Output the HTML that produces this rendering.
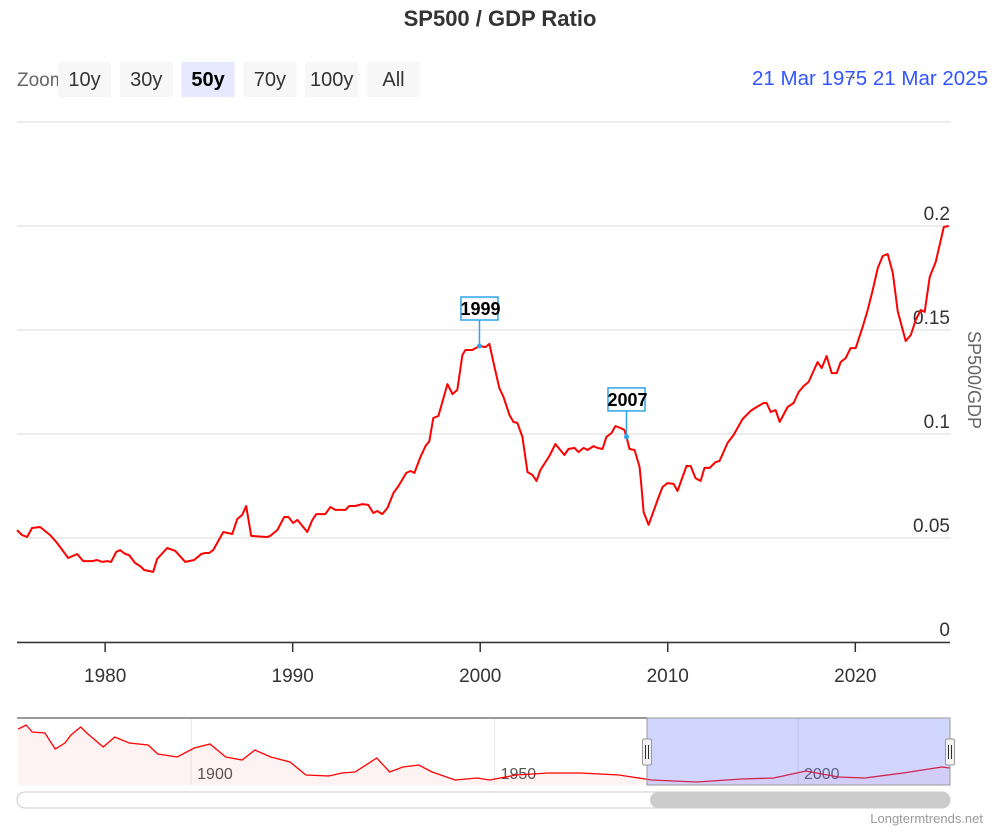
<!DOCTYPE html>
<html><head><meta charset="utf-8"><style>
body{margin:0;background:#fff;width:1000px;height:833px;overflow:hidden;font-family:"Liberation Sans",Arial,sans-serif}
svg{display:block}
</style></head><body>
<svg id="c" width="1000" height="833">
<text x="500" y="26" text-anchor="middle" font-size="22" font-weight="bold" fill="#333">SP500 / GDP Ratio</text>
<text x="17" y="86" font-size="19" fill="#666">Zoom</text>
<g id="btns"></g>
<text x="752" y="85" font-size="20.5" fill="#3355ff">21 Mar 1975</text>
<text x="843" y="80" font-size="15" fill="#666">→</text>
<text x="988" y="85" text-anchor="end" font-size="20.5" fill="#3355ff">21 Mar 2025</text>
<g id="grid"></g>
<g id="xaxis"></g>
<text transform="translate(968,380) rotate(90)" text-anchor="middle" font-size="18" fill="#666">SP500/GDP</text>
<path id="line" fill="none" stroke="#ff0000" stroke-width="2" stroke-linejoin="round"/>
<g id="flags"></g>
<g id="nav"></g>
<text x="983" y="823" text-anchor="end" font-size="13" fill="#999">Longtermtrends.net</text>
</svg>
<script>
const years=[1975.30,1975.57,1975.84,1976.10,1976.53,1977.07,1977.44,1978.03,1978.51,1978.83,1979.31,1979.57,1979.84,1980.11,1980.32,1980.59,1980.80,1981.07,1981.28,1981.60,1981.87,1982.08,1982.56,1982.77,1983.31,1983.74,1984.27,1984.75,1985.12,1985.34,1985.55,1985.76,1986.30,1986.78,1987.04,1987.31,1987.52,1987.79,1988.64,1988.80,1989.18,1989.55,1989.77,1990.03,1990.25,1990.78,1991.05,1991.26,1991.74,1992.01,1992.27,1992.81,1993.02,1993.34,1993.71,1994.03,1994.30,1994.51,1994.78,1995.05,1995.37,1995.64,1996.06,1996.28,1996.49,1996.81,1997.08,1997.29,1997.50,1997.77,1998.04,1998.25,1998.52,1998.78,1999.05,1999.21,1999.58,1999.96,2000.28,2000.49,2000.76,2001.02,2001.24,2001.56,2001.77,2001.98,2002.25,2002.52,2002.79,2003.00,2003.21,2003.69,2004.01,2004.23,2004.49,2004.71,2005.03,2005.24,2005.51,2005.72,2006.04,2006.25,2006.52,2006.73,2007.00,2007.21,2007.48,2007.69,2007.80,2007.96,2008.23,2008.50,2008.60,2008.71,2008.98,2009.46,2009.72,2009.99,2010.31,2010.52,2011.00,2011.22,2011.48,2011.75,2011.96,2012.23,2012.55,2012.76,2013.19,2013.51,2013.99,2014.42,2014.74,2015.11,2015.27,2015.49,2015.75,2015.97,2016.39,2016.71,2016.98,2017.25,2017.51,2017.99,2018.21,2018.47,2018.74,2019.01,2019.22,2019.49,2019.75,2020.02,2020.39,2020.66,2020.93,2021.20,2021.46,2021.73,2022.00,2022.26,2022.69,2022.96,2023.22,2023.49,2023.70,2023.97,2024.29,2024.72,2024.98];
const values=[0.0538,0.0514,0.0505,0.0548,0.0553,0.0514,0.0476,0.0404,0.0423,0.0389,0.0389,0.0394,0.0385,0.0389,0.0385,0.0433,0.0442,0.0423,0.0418,0.0380,0.0365,0.0346,0.0337,0.0399,0.0452,0.0438,0.0385,0.0394,0.0423,0.0428,0.0428,0.0442,0.0529,0.0519,0.0591,0.0611,0.0654,0.0510,0.0505,0.0510,0.0538,0.0601,0.0601,0.0572,0.0587,0.0529,0.0587,0.0615,0.0615,0.0649,0.0635,0.0635,0.0654,0.0654,0.0663,0.0659,0.0620,0.0630,0.0615,0.0644,0.0716,0.0750,0.0813,0.0822,0.0813,0.0889,0.0942,0.0966,0.1077,0.1087,0.1173,0.1240,0.1192,0.1212,0.1380,0.1404,0.1404,0.1423,0.1418,0.1433,0.1322,0.1221,0.1178,0.1091,0.1058,0.1053,0.0986,0.0817,0.0803,0.0774,0.0827,0.0894,0.0952,0.0928,0.0899,0.0928,0.0933,0.0913,0.0933,0.0923,0.0942,0.0933,0.0928,0.0986,0.1005,0.1038,0.1029,0.1019,0.0986,0.0928,0.0923,0.0841,0.0745,0.0625,0.0563,0.0683,0.0745,0.0764,0.0760,0.0726,0.0846,0.0846,0.0788,0.0774,0.0837,0.0837,0.0865,0.0870,0.0957,0.0995,0.1072,0.1111,0.1130,0.1149,0.1149,0.1106,0.1115,0.1058,0.1130,0.1149,0.1202,0.1231,0.1250,0.1346,0.1317,0.1375,0.1293,0.1293,0.1346,0.1365,0.1413,0.1413,0.1514,0.1596,0.1692,0.1798,0.1856,0.1865,0.1774,0.1591,0.1447,0.1476,0.1548,0.1596,0.1587,0.1755,0.1827,0.1995,0.2000];
const yTicks=[0,0.05,0.1,0.15,0.2,0.25];
const yTickLabels=["0","0.05","0.1","0.15","0.2",""];
const xTicks=[1980,1990,2000,2010,2020];
const flagYears=[1999.96,2007.80];
const flagValues=[0.1423,0.0986];
const flagLabels=["1999","2007"];
const navYears=[1871.5,1872.8,1873.8,1875.9,1877.6,1879.2,1880.2,1881.8,1882.8,1885.5,1887.4,1889.8,1892.9,1894.5,1897.7,1900.5,1903.1,1905.7,1908.4,1910.5,1913.1,1916.3,1918.9,1922.7,1924.8,1927.0,1930.6,1932.7,1934.9,1937.5,1939.7,1943.5,1947.1,1949.2,1953.5,1958.8,1964.2,1970.5,1975.9,1983.3,1990.7,1996.0,2001.3,2006.7,2011.0,2017.3,2023.7,2025.0];
const navValues=[56,60,53,52,36,42,50,58,52,38,48,42,40,31,28,37,41,28,25,35,28,23,10,9,12,13,27,13,18,20,13,5,7,5,10,12,12,10,5,3,6,7,14,8,7,12,18,17];
const navTicks=[1900,1950,2000];
const buttons=["10y","30y","50y","70y","100y","All"];

const NS="http://www.w3.org/2000/svg";
function mk(tag,attrs,parent){const e=document.createElementNS(NS,tag);for(const k in attrs)e.setAttribute(k,attrs[k]);parent.appendChild(e);return e;}
const X0=17,X1=950,Y0=642,PXV=2080;
const yearStart=1975.3,yearEnd=2025.05;
const xs=y=>X0+(y-yearStart)/(yearEnd-yearStart)*(X1-X0);
const ys=v=>Y0-v*PXV;

const bg=document.getElementById('btns');
buttons.forEach((b,i)=>{
  const x=58+i*61.8;
  const r=mk('rect',{x:x,y:62,width:53,height:35,rx:2,fill:b==="50y"?"#e6e9ff":"#f7f7f7"},bg);
  
  
  const t=mk('text',{x:x+26.5,y:86,'text-anchor':'middle','font-size':20,fill:b==="50y"?"#000":"#333",'font-weight':b==="50y"?"bold":"normal"},bg);
  t.textContent=b;
  
  
});
const g=document.getElementById('grid');
yTicks.forEach((v,i)=>{
  const l=mk('line',{x1:X0,x2:X1,y1:ys(v),y2:ys(v),stroke:"#e6e6e6","stroke-width":1.5},g);
  
  
  if(yTickLabels[i]){
    const t=mk('text',{x:X1,y:ys(v)-6,'text-anchor':'end','font-size':19,fill:"#333"},g);
    t.textContent=yTickLabels[i];
    
    
  }
});
const xa=document.getElementById('xaxis');
const al=mk('line',{x1:X0,x2:X1,y1:Y0+0.5,y2:Y0+0.5,stroke:"#333","stroke-width":1.5},xa);


xTicks.forEach(yr=>{
  const x=xs(yr);
  const tk=mk('line',{x1:x,x2:x,y1:Y0,y2:Y0+10,stroke:"#333","stroke-width":1.5},xa);
  
  
  const t=mk('text',{x:x,y:682,'text-anchor':'middle','font-size':19,fill:"#333"},xa);
  t.textContent=yr;
  
  
});
document.getElementById('line').setAttribute('d',years.map((y,i)=>(i?'L':'M')+xs(y).toFixed(1)+','+ys(values[i]).toFixed(1)).join(''));
const fg=document.getElementById('flags');
flagLabels.forEach((lab,i)=>{
  const x=xs(flagYears[i]),y=ys(flagValues[i]);
  const top=y-49;
  const ln=mk('line',{x1:x,x2:x,y1:top+23,y2:y,stroke:"#2fa4e7","stroke-width":1.5},fg);
  
  
  const r=mk('rect',{x:x-18.5,y:top,width:37,height:23,fill:"#fff",stroke:"#2fa4e7","stroke-width":1.5},fg);
  
  
  const t=mk('text',{x:x+1,y:top+18,'text-anchor':'middle','font-size':18,'font-weight':'bold',fill:"#000"},fg);
  t.textContent=lab;
  
  
  const c=mk('circle',{cx:x,cy:y,r:2.5,fill:"#2fa4e7"},fg);
  
  
});
const nv=document.getElementById('nav');
const NT=718,NB=785,nStart=1871.3,nEnd=2025.05;
const nx=y=>X0+(y-nStart)/(nEnd-nStart)*(X1-X0);
const ny=v=>NB-v;
navTicks.forEach(yr=>{
  const l=mk('line',{x1:nx(yr),x2:nx(yr),y1:NT,y2:NB,stroke:"#e6e6e6"},nv);
  
  
  const t=mk('text',{x:nx(yr)+6,y:779,'font-size':16,fill:"#555"},nv);
  t.textContent=yr;
  
  
});
const npts=navYears.map((y,i)=>nx(y).toFixed(1)+','+ny(navValues[i]).toFixed(1));
const area=mk('path',{d:'M'+npts.join('L')+'L'+nx(navYears[navYears.length-1])+','+NB+'L'+nx(navYears[0])+','+NB+'Z',fill:"rgba(255,0,0,0.05)"},nv);


const nl=mk('path',{d:'M'+npts.join('L'),fill:"none",stroke:"#ff0000","stroke-width":1.3},nv);


const sel=mk('rect',{x:647,y:NT,width:X1-647,height:NB-NT,fill:"rgba(102,119,255,0.3)",stroke:"#999"},nv);


const tb=mk('line',{x1:X0,x2:647,y1:NT,y2:NT,stroke:"#999","stroke-width":2},nv);


[647,950].forEach((hx,i)=>{
  const h=mk('rect',{x:hx-4.5,y:739,width:9,height:26,rx:1.5,fill:"#f2f2f2",stroke:"#999"},nv);
  
  
  mk('path',{d:`M${hx-1.5},745V759M${hx+1.5},745V759`,stroke:"#333","stroke-width":1},nv);
});
const sb=mk('rect',{x:17,y:792,width:933,height:16,rx:8,fill:"#fff",stroke:"#ccc"},nv);


const th=mk('rect',{x:650,y:792,width:300,height:16,rx:8,fill:"#cccccc"},nv);


</script>
</body></html>
